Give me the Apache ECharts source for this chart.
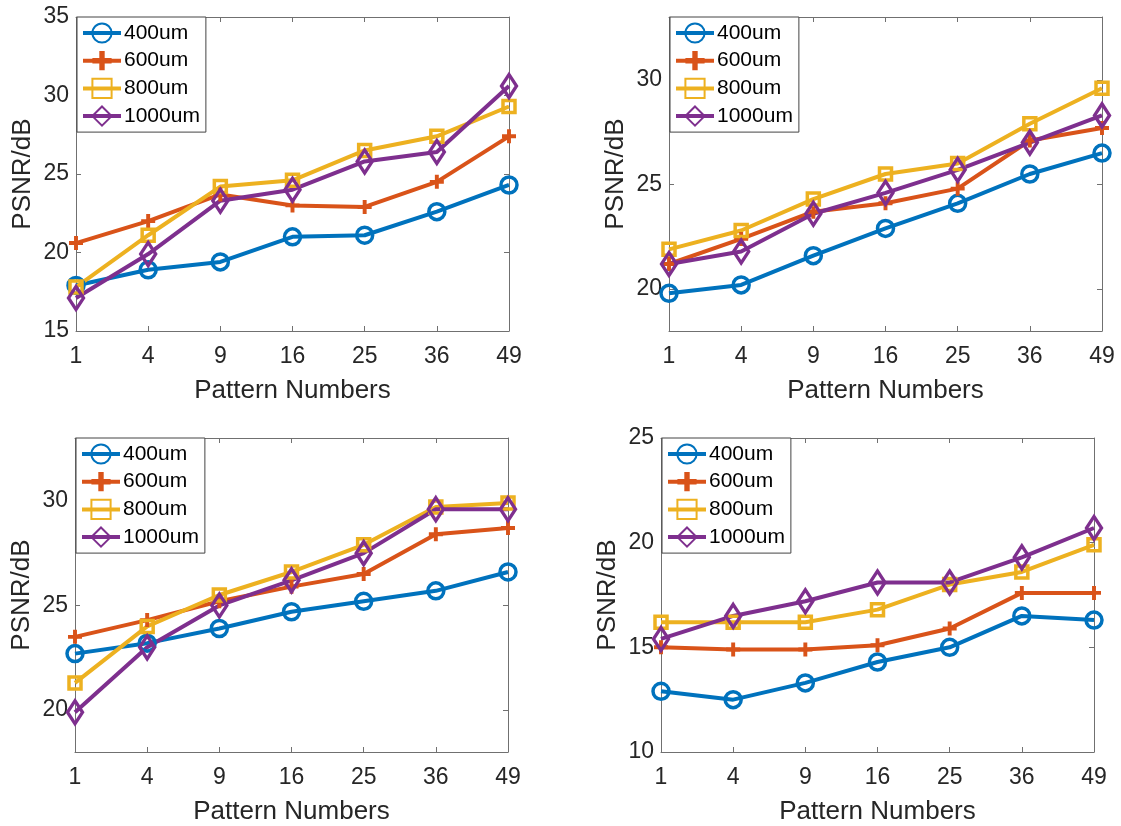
<!DOCTYPE html>
<html>
<head>
<meta charset="utf-8">
<style>
  html, body { margin: 0; padding: 0; background: #fff; }
  #chart { width: 1121px; height: 826px; }
</style>
</head>
<body>
<div id="chart"></div>
<script src="https://cdn.jsdelivr.net/npm/echarts@6/dist/echarts.min.js"></script>
<script>
  // Pattern numbers on the x axis.
  const xLabels = ['1', '4', '9', '16', '25', '36', '49'];
  const seriesNames = ['400um', '600um', '800um', '1000um'];

  // Panel 1 (top left).
  const p1_400 = [17.9, 18.9, 19.4, 21.0, 21.1, 22.6, 24.3];
  const p1_600 = [20.6, 22.0, 23.7, 23.0, 22.9, 24.5, 27.4];
  const p1_800 = [17.8, 21.1, 24.2, 24.6, 26.5, 27.4, 29.3];
  const p1_1000 = [17.1, 19.9, 23.3, 24.0, 25.8, 26.4, 30.6];

  // Panel 2 (top right).
  const p2_400 = [19.8, 20.2, 21.6, 22.9, 24.1, 25.5, 26.5];
  const p2_600 = [21.2, 22.4, 23.7, 24.1, 24.8, 27.1, 27.7];
  const p2_800 = [21.9, 22.8, 24.3, 25.5, 26.0, 27.9, 29.6];
  const p2_1000 = [21.2, 21.8, 23.6, 24.6, 25.7, 27.0, 28.3];

  // Panel 3 (bottom left).
  const p3_400 = [22.7, 23.2, 23.9, 24.7, 25.2, 25.7, 26.6];
  const p3_600 = [23.5, 24.3, 25.2, 25.9, 26.5, 28.4, 28.7];
  const p3_800 = [21.3, 24.0, 25.5, 26.6, 27.9, 29.7, 29.9];
  const p3_1000 = [19.9, 23.0, 25.0, 26.2, 27.5, 29.6, 29.6];

  // Panel 4 (bottom right).
  const p4_400 = [12.9, 12.5, 13.3, 14.3, 15.0, 16.5, 16.3];
  const p4_600 = [15.0, 14.9, 14.9, 15.1, 15.9, 17.6, 17.6];
  const p4_800 = [16.2, 16.2, 16.2, 16.8, 18.0, 18.6, 19.9];
  const p4_1000 = [15.4, 16.5, 17.2, 18.1, 18.1, 19.3, 20.7];

  // y ranges and the tick values shown on each panel.
  const yRanges = [[15, 35], [18, 33], [18, 33], [10, 25]];
  const yTicks = [[15, 20, 25, 30, 35], [20, 25, 30], [20, 25, 30], [10, 15, 20, 25]];

  const panels = [
    [p1_400, p1_600, p1_800, p1_1000],
    [p2_400, p2_600, p2_800, p2_1000],
    [p3_400, p3_600, p3_800, p3_1000],
    [p4_400, p4_600, p4_800, p4_1000]
  ];

  // Layout of the four axes boxes.
  const grids = [
    { left: 76, top: 17, width: 433, height: 314 },
    { left: 669, top: 17, width: 433, height: 314 },
    { left: 75, top: 438, width: 433, height: 314 },
    { left: 661, top: 438, width: 433, height: 314 }
  ];

  const colors = ['#0072BD', '#D95319', '#EDB120', '#7E2F8E'];
  const font = "'Liberation Sans', Arial, Helvetica, sans-serif";
  const axisColor = '#707070';
  const textColor = '#262626';
  const plusPath = 'path://M3.6,0H6.4V3.6H10V6.4H6.4V10H3.6V6.4H0V3.6H3.6Z';

  function markerStyle(k) {
    const c = colors[k];
    if (k === 1) {
      return { symbol: plusPath, symbolSize: 14, itemStyle: { color: c } };
    }
    const base = { color: 'rgba(255,255,255,0)', borderColor: c, borderWidth: 3.5 };
    if (k === 0) return { symbol: 'circle', symbolSize: 16, itemStyle: base };
    if (k === 2) return { symbol: 'rect', symbolSize: 12, itemStyle: base };
    return { symbol: 'diamond', symbolSize: [15, 23], itemStyle: base };
  }

  const grid = [], xAxis = [], yAxis = [], series = [], legend = [];

  grids.forEach(function (g, i) {
    grid.push(Object.assign({ containLabel: false }, g));

    const tick = { show: true, inside: true, length: 5, lineStyle: { color: axisColor, width: 1 } };
    const line = { show: true, onZero: false, lineStyle: { color: axisColor, width: 1 } };

    xAxis.push({
      type: 'category', gridIndex: i, data: xLabels, boundaryGap: false,
      axisLine: line, axisTick: Object.assign({ alignWithLabel: true }, tick),
      axisLabel: { color: textColor, fontSize: 23, fontFamily: font, margin: 14 },
      name: 'Pattern Numbers', nameLocation: 'middle', nameGap: 47,
      nameTextStyle: { color: textColor, fontSize: 26, fontFamily: font },
      splitLine: { show: false }
    });
    xAxis.push({
      type: 'category', gridIndex: i, data: xLabels, boundaryGap: false, position: 'top',
      axisLine: line, axisTick: Object.assign({ alignWithLabel: true }, tick),
      axisLabel: { show: false }, splitLine: { show: false }
    });

    const r = yRanges[i];
    yAxis.push({
      type: 'value', gridIndex: i, min: r[0], max: r[1],
      axisLine: line,
      axisTick: Object.assign({ customValues: yTicks[i] }, tick),
      axisLabel: { color: textColor, fontSize: 23, fontFamily: font, margin: 7, customValues: yTicks[i] },
      name: 'PSNR/dB', nameLocation: 'middle', nameGap: 40,
      nameTextStyle: { color: textColor, fontSize: 26, fontFamily: font },
      splitLine: { show: false }
    });
    yAxis.push({
      type: 'value', gridIndex: i, min: r[0], max: r[1], position: 'right',
      axisLine: line,
      axisTick: Object.assign({ customValues: yTicks[i] }, tick),
      axisLabel: { show: false, customValues: yTicks[i] },
      splitLine: { show: false }
    });

    panels[i].forEach(function (vals, k) {
      const m = markerStyle(k);
      series.push({
        type: 'line', name: seriesNames[k],
        xAxisIndex: 2 * i, yAxisIndex: 2 * i,
        data: vals, clip: false, animation: false,
        symbol: m.symbol, symbolSize: m.symbolSize, showAllSymbol: true,
        itemStyle: m.itemStyle,
        lineStyle: { color: colors[k], width: 4 },
        color: colors[k]
      });
    });

    legend.push({
      left: g.left + 1, top: g.top,
      orient: 'vertical',
      data: seriesNames,
      itemWidth: 38, itemHeight: 24, itemGap: 3.7,
      padding: [4, 6, 4, 4],
      backgroundColor: '#fff',
      borderColor: '#444', borderWidth: 1, borderRadius: 0,
      lineStyle: { width: 4 },
      textStyle: { color: '#000', fontSize: 21, fontFamily: font, lineHeight: 24, padding: [0, 0, 0, -2] },
      selectedMode: false
    });
  });

  const chart = echarts.init(document.getElementById('chart'), null, { renderer: 'canvas' });
  chart.setOption({
    animation: false,
    backgroundColor: '#fff',
    grid: grid,
    xAxis: xAxis,
    yAxis: yAxis,
    legend: legend,
    series: series
  });
</script>
</body>
</html>
